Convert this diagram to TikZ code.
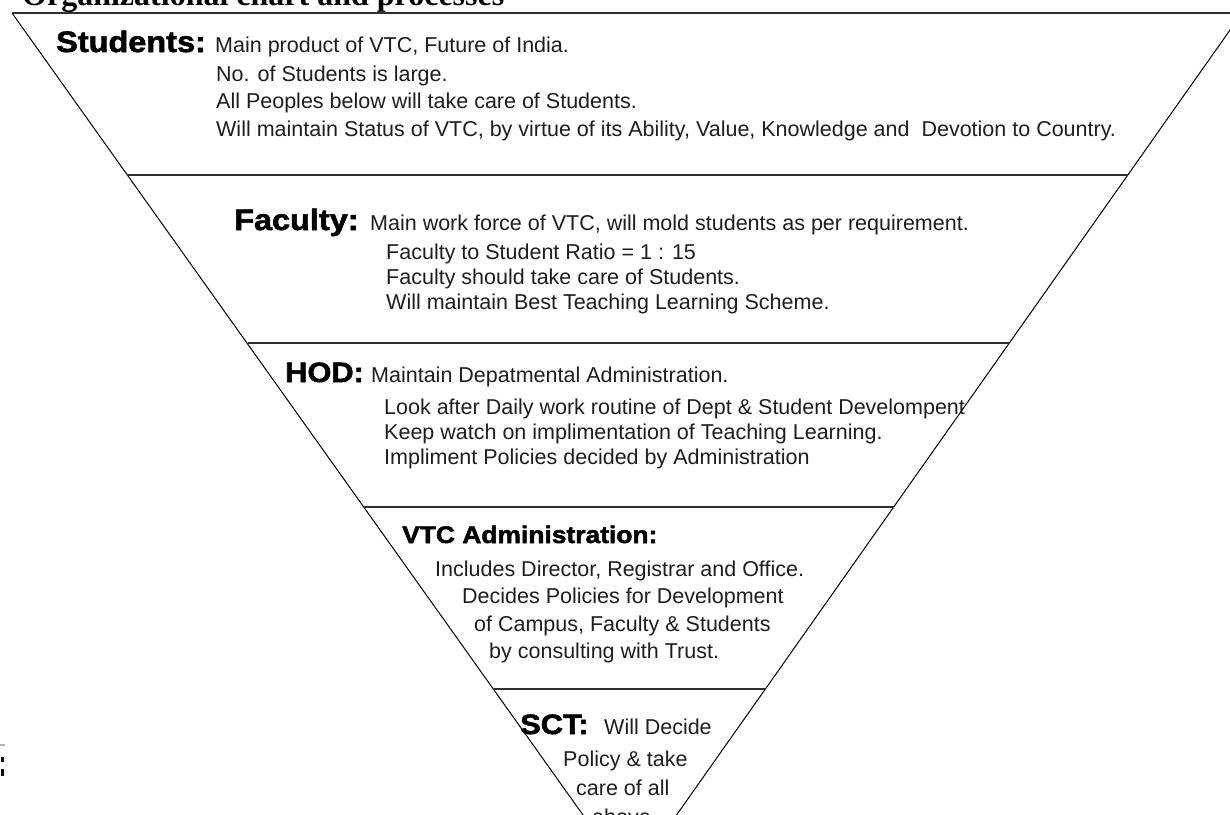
\documentclass[tikz,border=0pt]{standalone}
\usepackage{fontspec}
\setmainfont{Liberation Sans}
\newfontfamily\bodyfont{Liberation Sans}
\newfontfamily\heavyfont{Liberation Sans Bold}[FakeBold=2, FakeStretch=1.1]
\newfontfamily\titlefont{Liberation Serif Bold}
\definecolor{ink}{HTML}{1E1E1E}
\definecolor{rule}{HTML}{303030}
\begin{document}
\begin{tikzpicture}[x=1pt,y=-1pt,
  body/.style={anchor=base west, inner sep=0pt, text=ink, font=\bodyfont\fontsize{21.5}{24}\selectfont},
  head/.style={anchor=base west, inner sep=0pt, text=black, font=\heavyfont\fontsize{28}{30}\selectfont},
  headbig/.style={anchor=base west, inner sep=0pt, text=black, font=\heavyfont\fontsize{29.5}{31}\selectfont},
  headsmall/.style={anchor=base west, inner sep=0pt, text=black, font=\heavyfont\fontsize{24}{26}\selectfont},
  band/.style={draw=rule, line width=1.6pt},
  side/.style={draw=black, line width=1pt}]
\useasboundingbox (0,0) rectangle (1230,814);
\fill[white] (0,0) rectangle (1230,814);
% title (cut off at top)
\node[anchor=base west, inner sep=0pt, font=\titlefont\fontsize{32}{34}\selectfont] (title) at (22,5.5) {Organizational chart and processes};
% triangle sides
\coordinate (apex) at (630,881);
\coordinate (tl) at (12,13);
\coordinate (tr) at (1242,13);
\draw[side] (tl) -- (apex) -- (tr);
% horizontal bands
\coordinate (h0a) at (12,13);    \coordinate (h0b) at (1230,13);
\coordinate (h1a) at (127.3,175); \coordinate (h1b) at (1128,175);
\coordinate (h2a) at (247.5,343); \coordinate (h2b) at (1009.4,343);
\coordinate (h3a) at (364.2,507); \coordinate (h3b) at (893.5,507);
\coordinate (h4a) at (493.6,689); \coordinate (h4b) at (765,689);
\draw[band] (h0a) -- (h0b);
\draw[band] (h1a) -- (h1b);
\draw[band] (h2a) -- (h2b);
\draw[band] (h3a) -- (h3b);
\draw[band] (h4a) -- (h4b);
% Students
\node[headbig] (stH) at (56,52) {Students:};
\node[body] (st1) at (215,52) {Main product of VTC, Future of India.};
\node[body] (st2) at (216,81) {No. of Students is large.};
\node[body] (st3) at (216,108) {All Peoples below will take care of Students.};
\node[body] (st4) at (216,136) {Will maintain Status of VTC, by virtue of its Ability, Value, Knowledge and\ \ Devotion to Country.};
% Faculty
\node[headbig] (faH) at (234,230) {Faculty:};
\node[body] (fa1) at (370,230) {Main work force of VTC, will mold students as per requirement.};
\node[body] (fa2) at (386,259) {Faculty to Student Ratio = 1 : 15};
\node[body] (fa3) at (386,284) {Faculty should take care of Students.};
\node[body] (fa4) at (386,309) {Will maintain Best Teaching Learning Scheme.};
% HOD
\node[head] (hoH) at (285,382) {HOD:};
\node[body] (ho1) at (371,382) {Maintain Depatmental Administration.};
\node[body] (ho2) at (384,414) {Look after Daily work routine of Dept \& Student Develompent};
\node[body] (ho3) at (384,439) {Keep watch on implimentation of Teaching Learning.};
\node[body] (ho4) at (384,464) {Impliment Policies decided by Administration};
% VTC Administration
\node[headsmall] (vaH) at (402,543) {VTC Administration:};
\node[body] (va1) at (435,576) {Includes Director, Registrar and Office.};
\node[body] (va2) at (462,603) {Decides Policies for Development};
\node[body] (va3) at (474,631) {of Campus, Faculty \& Students};
\node[body] (va4) at (489,658) {by consulting with Trust.};
% SCT
\node[head] (scH) at (520,734) {SCT:};
\node[body] (sc1) at (604,734) {Will Decide};
\node[body] (sc2) at (563,766) {Policy \& take};
\node[body] (sc3) at (576,795) {care of all};
\node[body] (sc4) at (592,824) {above};
% stray fragment at left edge
\draw[gray!60, line width=1.5pt] (0,745) -- (5,745);
\fill[black] (1,757) rectangle (4,762);
\fill[black] (1,769) rectangle (4,776);
\end{tikzpicture}
\end{document}
